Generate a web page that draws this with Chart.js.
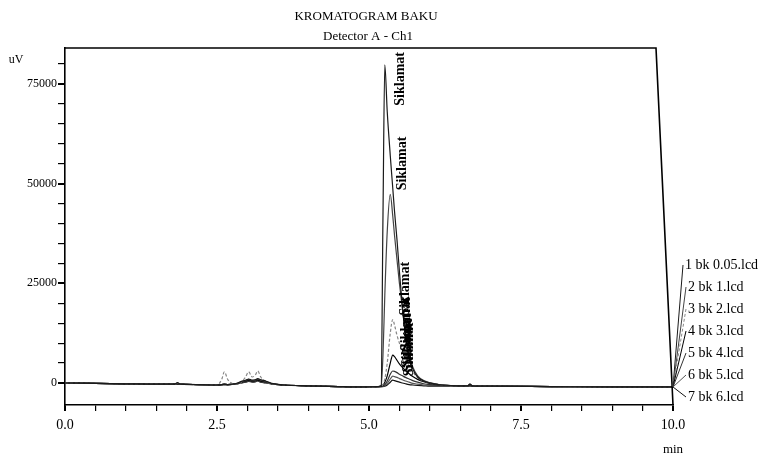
<!DOCTYPE html>
<html>
<head>
<meta charset="utf-8">
<script src="https://cdn.jsdelivr.net/npm/chart.js@4.4.1/dist/chart.umd.min.js"></script>
<style>
  html, body { margin: 0; padding: 0; background: #fff; }
  canvas { display: block; }
</style>
</head>
<body>
<canvas id="kromatogram" width="765" height="462"></canvas>
<script>
// retention time grid (min)
const times = [0, 0.5, 1.0, 1.5, 1.8, 1.85, 1.9, 2.2, 2.5, 2.58, 2.62, 2.68, 2.8, 2.9, 2.97, 3.02, 3.08, 3.13, 3.17, 3.22, 3.3, 3.4,
  3.6, 4.0, 4.5, 4.9, 5.15, 5.20, 5.23, 5.26, 5.30, 5.35, 5.39, 5.42, 5.46, 5.50, 5.55, 5.60, 5.66, 5.72, 5.80, 5.90, 6.0,
  6.2, 6.5, 6.62, 6.66, 6.7, 7.0, 8.0, 9.0, 9.6, 10.0];

// detector response (uV), one list per file
const bk1 = [0, -100, -200, -300, -300, 100, -300, -400, -500, -400, -300, -400, -200, 400, 700, 1000, 700, 800, 1100, 800, 500, -100,
  -500, -700, -900, -1000, -900, -700, 42000, 79800, 68000, 57000, 49000, 43000, 36000, 28000, 19000, 12000, 6500, 3500, 1500, 500, 0,
  -500, -700, -700, -300, -700, -800, -900, -1000, -1000, -1000];
const bk2 = [0, -100, -200, -300, -300, 0, -300, -400, -500, -400, -300, -400, -300, 300, 600, 900, 600, 700, 1000, 700, 400, -200,
  -500, -700, -900, -1000, -900, -700, 7000, 22000, 38000, 47300, 42000, 37000, 31000, 25000, 18500, 12500, 7500, 4000, 1800, 600, 100,
  -500, -700, -700, -400, -700, -800, -900, -1000, -1000, -1000];
const bk3 = [0, -100, -200, -300, -300, -100, -300, -400, -500, 1000, 2800, 800, -300, 200, 1500, 2800, 1500, 2000, 3000, 1500, 400, -200,
  -500, -700, -900, -1000, -900, -800, -400, 1000, 5000, 12500, 15900, 14500, 12000, 10000, 7800, 6000, 4200, 2800, 1300, 500, 0,
  -500, -700, -700, -200, -700, -800, -900, -1000, -1000, -1000];
const bk4 = [0, -100, -200, -300, -300, -200, -300, -400, -500, -400, -300, -400, -300, 200, 500, 700, 500, 600, 800, 500, 300, -200,
  -500, -700, -900, -1000, -900, -800, -500, 200, 1800, 5000, 7000, 6600, 5700, 4800, 3900, 3100, 2300, 1600, 900, 300, -100,
  -500, -700, -700, -500, -700, -800, -900, -1000, -1000, -1000];
const bk5 = [0, -100, -200, -300, -300, -200, -300, -400, -500, -400, -400, -400, -300, 100, 400, 600, 400, 500, 700, 400, 200, -200,
  -500, -700, -900, -1000, -900, -900, -700, -400, 500, 2200, 3000, 2900, 2600, 2200, 1800, 1400, 1000, 600, 200, -200, -400,
  -600, -700, -700, -600, -700, -800, -900, -1000, -1000, -1000];
const bk6 = [0, -100, -200, -300, -300, -200, -300, -400, -500, -400, -400, -400, -300, 0, 300, 500, 300, 400, 600, 300, 100, -200,
  -500, -700, -900, -1000, -900, -900, -800, -600, -100, 1000, 1700, 1600, 1400, 1100, 800, 500, 200, -100, -300, -500, -600,
  -700, -700, -700, -700, -700, -800, -900, -1000, -1000, -1000];
const bk7 = [0, -100, -200, -300, -300, -200, -300, -400, -500, -400, -400, -400, -300, 0, 200, 400, 200, 300, 500, 200, 0, -200,
  -500, -700, -900, -1000, -900, -900, -900, -800, -500, 200, 700, 600, 400, 200, 0, -200, -400, -500, -600, -700, -800,
  -800, -800, -800, -800, -800, -800, -900, -1000, -1000, -1000];

const seriesNames = ['1 bk 0.05.lcd', '2 bk 1.lcd', '3 bk 2.lcd', '4 bk 3.lcd', '5 bk 4.lcd', '6 bk 5.lcd', '7 bk 6.lcd'];
const seriesValues = [bk1, bk2, bk3, bk4, bk5, bk6, bk7];
const peakName = 'Siklamat';

// axis ticks: small marks every 5000 uV / 0.5 min, numbers on the big ones
const yTicks = [0, 5000, 10000, 15000, 20000, 25000, 30000, 35000, 40000, 45000, 50000, 55000, 60000, 65000, 70000, 75000, 80000];
const yLabelTicks = [0, 25000, 50000, 75000];
const xLabelTicks = [0, 2.5, 5, 7.5, 10];

const lineColors = ['#1a1a1a', '#444', '#888', '#000', '#333', '#555', '#111'];
const lineDash = [[], [], [3, 2], [], [], [], []];
const serif = "'Liberation Serif', 'DejaVu Serif', serif";

const isXLabel = v => xLabelTicks.some(t => Math.abs(t - v) < 1e-6);

const datasets = seriesValues.map((vals, i) => ({
  label: seriesNames[i],
  data: times.map((t, j) => ({ x: t, y: vals[j] })),
  borderColor: lineColors[i],
  borderWidth: 1.2,
  borderDash: lineDash[i],
  pointRadius: 0,
  cubicInterpolationMode: 'monotone',
  fill: false
}));

// titles, unit labels, peak names and file legend
const decorations = {
  id: 'decorations',
  afterDraw(chart) {
    const ctx = chart.ctx;
    const area = chart.chartArea;
    const xs = chart.scales.x;
    const ys = chart.scales.y;
    ctx.save();

    // frame: top line and (slightly skewed) right edge as in the scan
    ctx.strokeStyle = '#000';
    ctx.lineWidth = 1.6;
    ctx.beginPath();
    ctx.moveTo(area.left, area.top);
    ctx.lineTo(area.right - 17, area.top);
    ctx.lineTo(area.right, area.bottom);
    ctx.stroke();

    ctx.fillStyle = '#000';
    ctx.textAlign = 'center';
    ctx.textBaseline = 'middle';
    const cx = (area.left + area.right) / 2;
    ctx.font = '13px ' + serif;
    ctx.fillText('KROMATOGRAM BAKU', cx - 3, 17);
    ctx.fillText('Detector A - Ch1', cx - 1, 37);

    ctx.font = '12px ' + serif;
    ctx.fillText('uV', 16, 60);
    ctx.font = '13px ' + serif;
    ctx.fillText('min', area.right, 450);

    // peak labels, rotated
    ctx.font = 'bold 14px ' + serif;
    seriesValues.forEach((vals, i) => {
      let k = 0;
      vals.forEach((v, j) => { if (v > vals[k]) k = j; });
      const len = ctx.measureText(peakName).width;
      let px = xs.getPixelForValue(times[k]) + 15 + i * 0.8;
      let py = ys.getPixelForValue(vals[k]) - 4;
      if (py - len < area.top + 4) {
        py = area.top + 4 + len;
        px += 4;
      }
      ctx.save();
      ctx.translate(px, py);
      ctx.rotate(-Math.PI / 2);
      ctx.textAlign = 'left';
      ctx.textBaseline = 'alphabetic';
      ctx.fillText(peakName, 0, 0);
      ctx.restore();
    });

    // file legend with leader lines to the trace ends
    ctx.font = '14px ' + serif;
    ctx.textAlign = 'left';
    seriesNames.forEach((name, i) => {
      const lx = area.right + (i === 0 ? 12 : 15);
      const ly = 265 + i * 22;
      ctx.fillText(name, lx, ly);
      const vals = seriesValues[i];
      ctx.strokeStyle = lineColors[i];
      ctx.lineWidth = 1;
      ctx.setLineDash(lineDash[i]);
      ctx.beginPath();
      ctx.moveTo(lx - 2, ly);
      ctx.lineTo(xs.getPixelForValue(times[times.length - 1]), ys.getPixelForValue(vals[vals.length - 1]));
      ctx.stroke();
      ctx.setLineDash([]);
    });
    ctx.restore();
  }
};

new Chart(document.getElementById('kromatogram'), {
  type: 'line',
  data: { datasets },
  plugins: [decorations],
  options: {
    responsive: false,
    animation: false,
    devicePixelRatio: 1,
    layout: { padding: { top: 48, right: 92, bottom: 0, left: 0 } },
    plugins: { legend: { display: false }, title: { display: false }, tooltip: { enabled: false } },
    scales: {
      x: {
        type: 'linear',
        min: 0,
        max: 10,
        afterFit(scale) { scale.height = 57; },
        border: { display: true, color: '#000', width: 1.6 },
        grid: {
          drawOnChartArea: false,
          drawTicks: true,
          tickLength: 6,
          color: '#000',
          lineWidth: c => (c.tick && isXLabel(c.tick.value)) ? 2 : 1.2
        },
        ticks: {
          stepSize: 0.5,
          autoSkip: false,
          maxRotation: 0,
          padding: 6,
          color: '#000',
          font: { family: serif, size: 14 },
          callback: v => isXLabel(v) ? v.toFixed(1) : ''
        }
      },
      y: {
        type: 'linear',
        min: -5520,
        max: 84000,
        afterFit(scale) { scale.width = 65; },
        afterBuildTicks(scale) {
          scale.ticks = yTicks.map(v => ({ value: v }));
        },
        border: { display: true, color: '#000', width: 1.6 },
        grid: {
          drawOnChartArea: false,
          drawTicks: true,
          tickLength: 7,
          color: '#000',
          lineWidth: c => (c.tick && yLabelTicks.includes(c.tick.value)) ? 2 : 1.2
        },
        ticks: {
          autoSkip: false,
          padding: 1,
          color: '#000',
          font: { family: serif, size: 12 },
          callback: v => yLabelTicks.includes(v) ? String(v) : ''
        }
      }
    }
  }
});
</script>
</body>
</html>
